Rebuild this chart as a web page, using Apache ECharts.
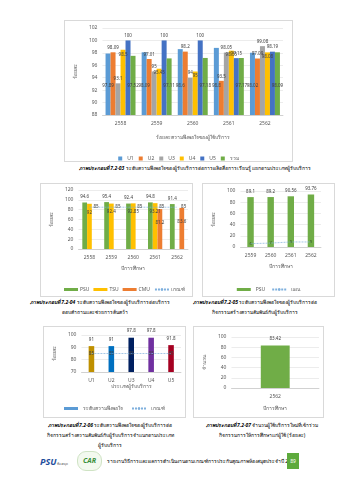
<!DOCTYPE html>
<html><head><meta charset="utf-8">
<script src="https://cdn.jsdelivr.net/npm/echarts@6/dist/echarts.min.js"></script>
<style>
body{margin:0;width:339px;height:480px;background:#fff;position:relative;overflow:hidden;font-family:"Noto Sans","DejaVu Sans",sans-serif;color:#000}
.box{position:absolute;border:1px solid #D9D9D9;box-sizing:border-box;background:#fff}
.cap{position:absolute;font-size:5px;line-height:10px;text-align:center;white-space:nowrap;color:#000}
.cap b{font-style:italic}
</style></head>
<body>
<div id="c1" class="box" style="left:64px;top:20px;width:229px;height:142px"></div>
<div class="cap" style="left:60px;top:163px;width:270px">
<b>ภาพประกอบที่ 7.2-03</b> ระดับความพึงพอใจของผู้รับบริการต่อการผลิตสื่อการเรียนรู้ แยกตามประเภทผู้รับบริการ</div>
<div id="c2" class="box" style="left:40px;top:183px;width:153px;height:114px"></div>
<div id="c3" class="box" style="left:202px;top:183px;width:133px;height:114px"></div>
<div class="cap" style="left:30px;top:297px;width:130px"><b>ภาพประกอบที่ 7.2-04</b> ระดับความพึงพอใจของผู้รับบริการต่อบริการ<br>ตอบคำถามและช่วยการค้นคว้า</div>
<div class="cap" style="left:190px;top:297px;width:130px"><b>ภาพประกอบที่ 7.2-05</b> ระดับความพึงพอใจของผู้รับบริการต่อ<br>กิจกรรมสร้างความสัมพันธ์กับผู้รับบริการ</div>
<div id="c4" class="box" style="left:43px;top:326px;width:143px;height:92px"></div>
<div id="c5" class="box" style="left:193px;top:326px;width:131px;height:92px"></div>
<div class="cap" style="left:45px;top:420px;width:130px"><b>ภาพประกอบที่ 7.2-06</b> ระดับความพึงพอใจของผู้รับบริการต่อ<br>กิจกรรมสร้างความสัมพันธ์กับผู้รับบริการจำแนกตามประเภท<br>ผู้รับบริการ</div>
<div class="cap" style="left:197px;top:420px;width:130px"><b>ภาพประกอบที่ 7.2-07</b> จำนวนผู้ใช้บริการใหม่ที่เข้าร่วม<br>กิจกรรมการให้การศึกษาแก่ผู้ใช้ (ร้อยละ)</div>
<div style="position:absolute;left:40px;top:455px;font-size:9px;font-weight:bold;color:#1F4E9C;font-style:italic">PSU<span style="font-size:3px;color:#555;font-style:normal;font-weight:normal"> ห้องสมุด</span></div>
<div style="position:absolute;left:77px;top:451px;width:23px;height:18px;border-radius:9px;border:1px solid #cfe3c4;background:#f3f9ef;font-size:7px;font-weight:bold;color:#3a8f3a;text-align:center;line-height:18px;font-style:italic">CAR</div>
<div style="position:absolute;left:107px;top:456px;font-size:5px;line-height:10px;white-space:nowrap">รายงานวิธีการและผลการดำเนินงานตามเกณฑ์การประกันคุณภาพห้องสมุดประจำปี 2562</div>
<div style="position:absolute;left:287px;top:453px;width:12px;height:16px;background:#5DAA3C;color:#fff;font-size:5px;line-height:16px;text-align:center">89</div>
<script>
// ---------- data ----------
const years1 = ['2558', '2559', '2560', '2561', '2562'];
const seriesNames1 = ['U1', 'U2', 'U3', 'U4', 'U5', 'รวม'];
const u1 = [97.89, 98.09, 98.6, 98.8, 98.02];
const u2 = [98.09, 97.01, 98.2, 93.5, 97.09];
const u3 = [93.1, 95, 94, 98.05, 99.08];
const u4 = [98.5, 95.45, 95, 98.35, 98.08];
const u5 = [100, 100, 100, 97.15, 98.19];
const total1 = [97.52, 97.11, 97.18, 97.17, 98.09];

const years2 = ['2558', '2559', '2560', '2561', '2562'];
const psu2 = [94.6, 95.4, 92.4, 94.8, 91.4];
const tsu2 = [92, 92.4, 92.85, 93.21, null];
const cmu2 = [null, null, null, 81.2, 83.6];
const criteria2 = [85, 85, 85, 85, 85];

const years3 = ['2559', '2560', '2561', '2562'];
const psu3 = [89.1, 89.2, 90.56, 93.76];
const plan3 = [6, 7, 9, 9];

const types4 = ['U1', 'U2', 'U3', 'U4', 'U5'];
const sat4 = [91, 91, 97.8, 97.8, 91.8];
const criteria4 = [85, 85, 85, 85, 85];

const years5 = ['2562'];
const new5 = [83.42];

// ---------- styles ----------
const FONT = '"Noto Sans","DejaVu Sans",sans-serif';
const TXT = '#595959';
const GRID = '#D9D9D9';
const LINEC = '#7FB0DD';
const colors1 = ['#5B9BD5', '#ED7D31', '#A5A5A5', '#FFC000', '#4472C4', '#70AD47'];
const labelPos1 = [
  {position: 'insideBottom', distance: 27},
  {position: 'top', distance: 2},
  {position: 'top', distance: 2},
  {position: 'insideTop', distance: 2},
  {position: 'top', distance: 2},
  {position: 'insideBottom', distance: 27}
];
const colors4 = ['#BF9000', '#0070C0', '#002060', '#7030A0', '#A50021'];

function yAx(min, max, interval, name, gap) {
  return {type: 'value', min: min, max: max, interval: interval,
    name: name, nameLocation: 'middle', nameGap: gap,
    nameTextStyle: {fontSize: 5, color: TXT, fontFamily: FONT},
    axisLabel: {fontSize: 5, color: TXT, margin: 5, fontFamily: FONT},
    axisLine: {show: false}, axisTick: {show: false},
    splitLine: {lineStyle: {color: GRID, width: 0.5}}};
}
function xAx(data, name, gap) {
  return {type: 'category', data: data, name: name, nameLocation: 'middle', nameGap: gap,
    nameTextStyle: {fontSize: 5, color: TXT, fontFamily: FONT},
    axisLabel: {fontSize: 5, color: TXT, margin: 6, fontFamily: FONT},
    axisLine: {lineStyle: {color: '#BFBFBF', width: 0.6}}, axisTick: {show: false}};
}
function lab(extra) {
  return Object.assign({show: true, fontSize: 4.5, color: '#404040', fontFamily: FONT}, extra);
}
function dashLine(name, data, labelExtra) {
  return {type: 'line', name: name, data: data, symbol: 'circle', symbolSize: 0.01, showSymbol: true,
    lineStyle: {color: LINEC, width: 0.7, type: [2, 1]}, itemStyle: {color: LINEC},
    label: lab(labelExtra), z: 5};
}

// ---------- chart 1 ----------
const data1 = [u1, u2, u3, u4, u5, total1];
echarts.init(document.getElementById('c1')).setOption({
  animation: false, textStyle: {fontFamily: FONT},
  grid: {left: 31, right: 9, top: 7, bottom: 46},
  legend: {top: 130, left: 'center', icon: 'rect', itemWidth: 4, itemHeight: 4, itemGap: 5,
    textStyle: {fontSize: 5, color: TXT, fontFamily: FONT}, data: seriesNames1},
  xAxis: xAx(years1, 'ร้อยละความพึงพอใจของผู้ใช้บริการ', 20),
  yAxis: yAx(88, 102, 2, 'ร้อยละ', 16),
  series: data1.map((d, i) => ({
    type: 'bar', name: seriesNames1[i], data: d, barGap: '0%', barCategoryGap: '17%',
    itemStyle: {color: colors1[i]}, label: lab(labelPos1[i])
  }))
});

// ---------- chart 2 ----------
echarts.init(document.getElementById('c2')).setOption({
  animation: false, textStyle: {fontFamily: FONT},
  grid: {left: 30, right: 4, top: 6, bottom: 47},
  legend: {top: 98, left: 18, itemWidth: 14, itemHeight: 3, itemGap: 4,
    textStyle: {fontSize: 5, color: TXT, fontFamily: FONT, padding: [0, 0, 0, -3]},
    data: [{name: 'PSU', icon: 'rect'}, {name: 'TSU', icon: 'rect'}, {name: 'CMU', icon: 'rect'}, {name: 'เกณฑ์'}]},
  xAxis: xAx(years2, 'ปีการศึกษา', 17),
  yAxis: yAx(0, 120, 20, 'ร้อยละ', 14),
  series: [
    {type: 'bar', name: 'PSU', data: psu2, barGap: '0%', barCategoryGap: '35%', itemStyle: {color: '#70AD47'}, label: lab({position: 'top', distance: 3})},
    {type: 'bar', name: 'TSU', data: tsu2, itemStyle: {color: '#FFC000'}, label: lab({position: 'insideTop', distance: 6})},
    {type: 'bar', name: 'CMU', data: cmu2, itemStyle: {color: '#ED7D31'}, label: lab({position: 'insideTop', distance: 11})},
    dashLine('เกณฑ์', criteria2, {position: 'right', distance: 4})
  ]
});

// ---------- chart 3 ----------
echarts.init(document.getElementById('c3')).setOption({
  animation: false, textStyle: {fontFamily: FONT},
  grid: {left: 30, right: 13, top: 7, bottom: 49},
  legend: {top: 98, left: 'center', itemWidth: 14, itemHeight: 3, itemGap: 6,
    textStyle: {fontSize: 5, color: TXT, fontFamily: FONT},
    data: [{name: 'PSU', icon: 'rect'}, {name: 'แผน'}]},
  xAxis: xAx(years3, 'ปีการศึกษา', 17),
  yAxis: yAx(0, 100, 20, 'ร้อยละ', 14),
  series: [
    {type: 'bar', name: 'PSU', data: psu3, barCategoryGap: '68%', itemStyle: {color: '#70AD47'}, label: lab({position: 'top', distance: 3})},
    dashLine('แผน', plan3, {position: 'inside', fontSize: 4, color: '#375623'})
  ]
});

// ---------- chart 4 ----------
echarts.init(document.getElementById('c4')).setOption({
  animation: false, textStyle: {fontFamily: FONT},
  grid: {left: 33, right: 4, top: 8, bottom: 45},
  legend: {top: 74, left: 'center', itemWidth: 14, itemHeight: 3, itemGap: 8,
    textStyle: {fontSize: 5, color: TXT, fontFamily: FONT},
    data: [{name: 'ระดับความพึงพอใจ', icon: 'rect'}, {name: 'เกณฑ์'}]},
  xAxis: xAx(types4, 'ประเภทผู้รับบริการ', 11),
  yAxis: yAx(70, 100, 10, 'ร้อยละ', 14),
  series: [
    {type: 'bar', name: 'ระดับความพึงพอใจ', barCategoryGap: '72%',
      data: sat4.map((v, i) => ({value: v, itemStyle: {color: colors4[i]}})),
      itemStyle: {color: '#5B9BD5'}, label: lab({position: 'top', distance: 4})},
    dashLine('เกณฑ์', criteria4, {position: 'inside'})
  ]
});

// ---------- chart 5 ----------
echarts.init(document.getElementById('c5')).setOption({
  animation: false, textStyle: {fontFamily: FONT},
  grid: {left: 34, right: 4, top: 10, bottom: 29},
  xAxis: xAx(years5, 'ปีการศึกษา', 18),
  yAxis: yAx(0, 100, 20, 'จำนวน', 14),
  series: [
    {type: 'bar', name: 'จำนวน', data: new5, barWidth: '33%', itemStyle: {color: '#70AD47'}, label: lab({position: 'top', distance: 4})}
  ]
});
</script>
</body></html>
